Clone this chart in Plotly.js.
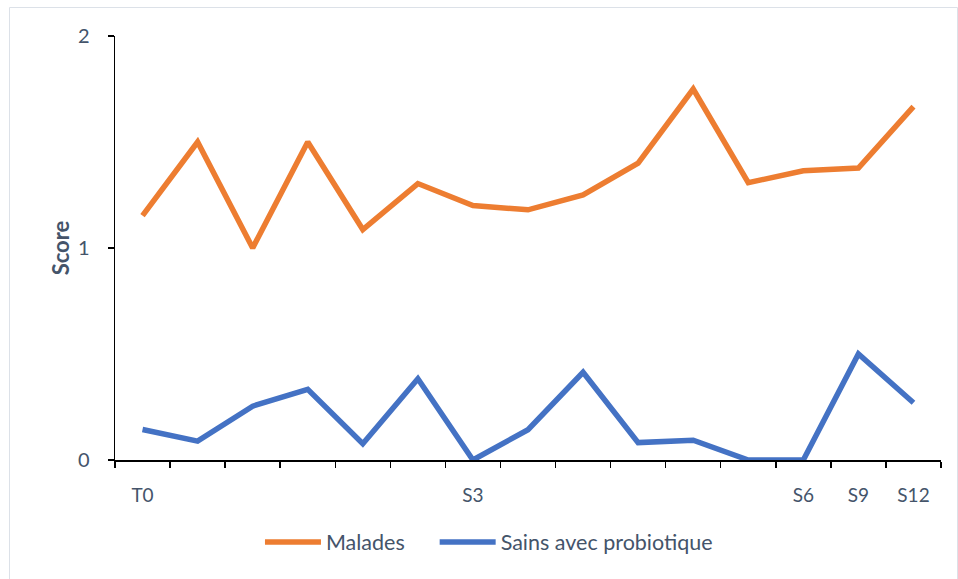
<!DOCTYPE html>
<html>
<head>
<meta charset="utf-8">
<script src="https://cdn.plot.ly/plotly-3.0.1.min.js"></script>
<style>html,body{margin:0;padding:0;background:#fff;}#chart{width:958px;height:579px;}</style>
</head>
<body>
<div id="chart"></div>
<script>
const timepoints = [0,1,2,3,4,5,6,7,8,9,10,11,12,13,14];
const tickPositions = [0, 6, 12, 13, 14];
const tickLabels = ["T0", "S3", "S6", "S9", "S12"];
const malades = [1.153, 1.5, 1.0, 1.5, 1.087, 1.304, 1.2, 1.18, 1.25, 1.4, 1.75, 1.308, 1.364, 1.377, 1.667];
const sainsProbiotique = [0.144, 0.089, 0.254, 0.333, 0.077, 0.383, 0.0, 0.143, 0.414, 0.082, 0.093, 0.0, 0.0, 0.5, 0.27];

const textColor = "#44546A";
const font = "Lato, 'Open Sans', sans-serif";

const traces = [
  {x: timepoints, y: malades, name: "Malades", type: "scatter", mode: "lines",
   line: {color: "#ED7D31", width: 5.5}, legend: "legend"},
  {x: timepoints, y: sainsProbiotique, name: "Sains avec probiotique", type: "scatter", mode: "lines",
   line: {color: "#4472C4", width: 5.5}, legend: "legend2"}
];

const legendBase = {orientation: "h", xanchor: "left", y: -0.145, yanchor: "top",
                    font: {size: 21.5, color: textColor}, itemwidth: 56, bgcolor: "rgba(0,0,0,0)"};

const layout = {
  width: 958, height: 579,
  margin: {l: 115, r: 17, t: 36, b: 119, autoexpand: false},
  paper_bgcolor: "#fff", plot_bgcolor: "#fff",
  font: {family: font, color: textColor, size: 19},
  showlegend: true,
  legend: Object.assign({}, legendBase, {x: 0.1755}),
  legend2: Object.assign({}, legendBase, {x: 0.387}),
  xaxis: {
    range: [-0.5, 14.5], showgrid: false, zeroline: false,
    showline: true, linecolor: "#000", linewidth: 1.5,
    tickmode: "array", tickvals: tickPositions, ticktext: tickLabels, ticks: "",
    tickfont: {size: 19, color: textColor}, ticklabelstandoff: 18,
    minor: {tick0: -0.5, dtick: 1, ticks: "outside", ticklen: 6, tickcolor: "#000", tickwidth: 1.5, showgrid: false}
  },
  yaxis: {
    range: [0, 2], tickvals: [0, 1, 2], showgrid: false, zeroline: false,
    showline: true, linecolor: "#000", linewidth: 1.5,
    ticks: "outside", ticklen: 6, tickcolor: "#000", tickwidth: 1.5,
    tickfont: {size: 20, color: textColor}, ticklabelstandoff: 14,
    title: {text: "<b>Score</b>", font: {size: 22, color: textColor}, standoff: 2}
  },
  shapes: [{
    type: "rect", xref: "paper", yref: "paper",
    x0: -0.1277, x1: 1.02, y0: -0.5, y1: 1.0672,
    line: {color: "#DCE1E8", width: 1}, fillcolor: "rgba(0,0,0,0)", layer: "below"
  }]
};

Plotly.newPlot("chart", traces, layout, {displayModeBar: false, staticPlot: true});
</script>
</body>
</html>
